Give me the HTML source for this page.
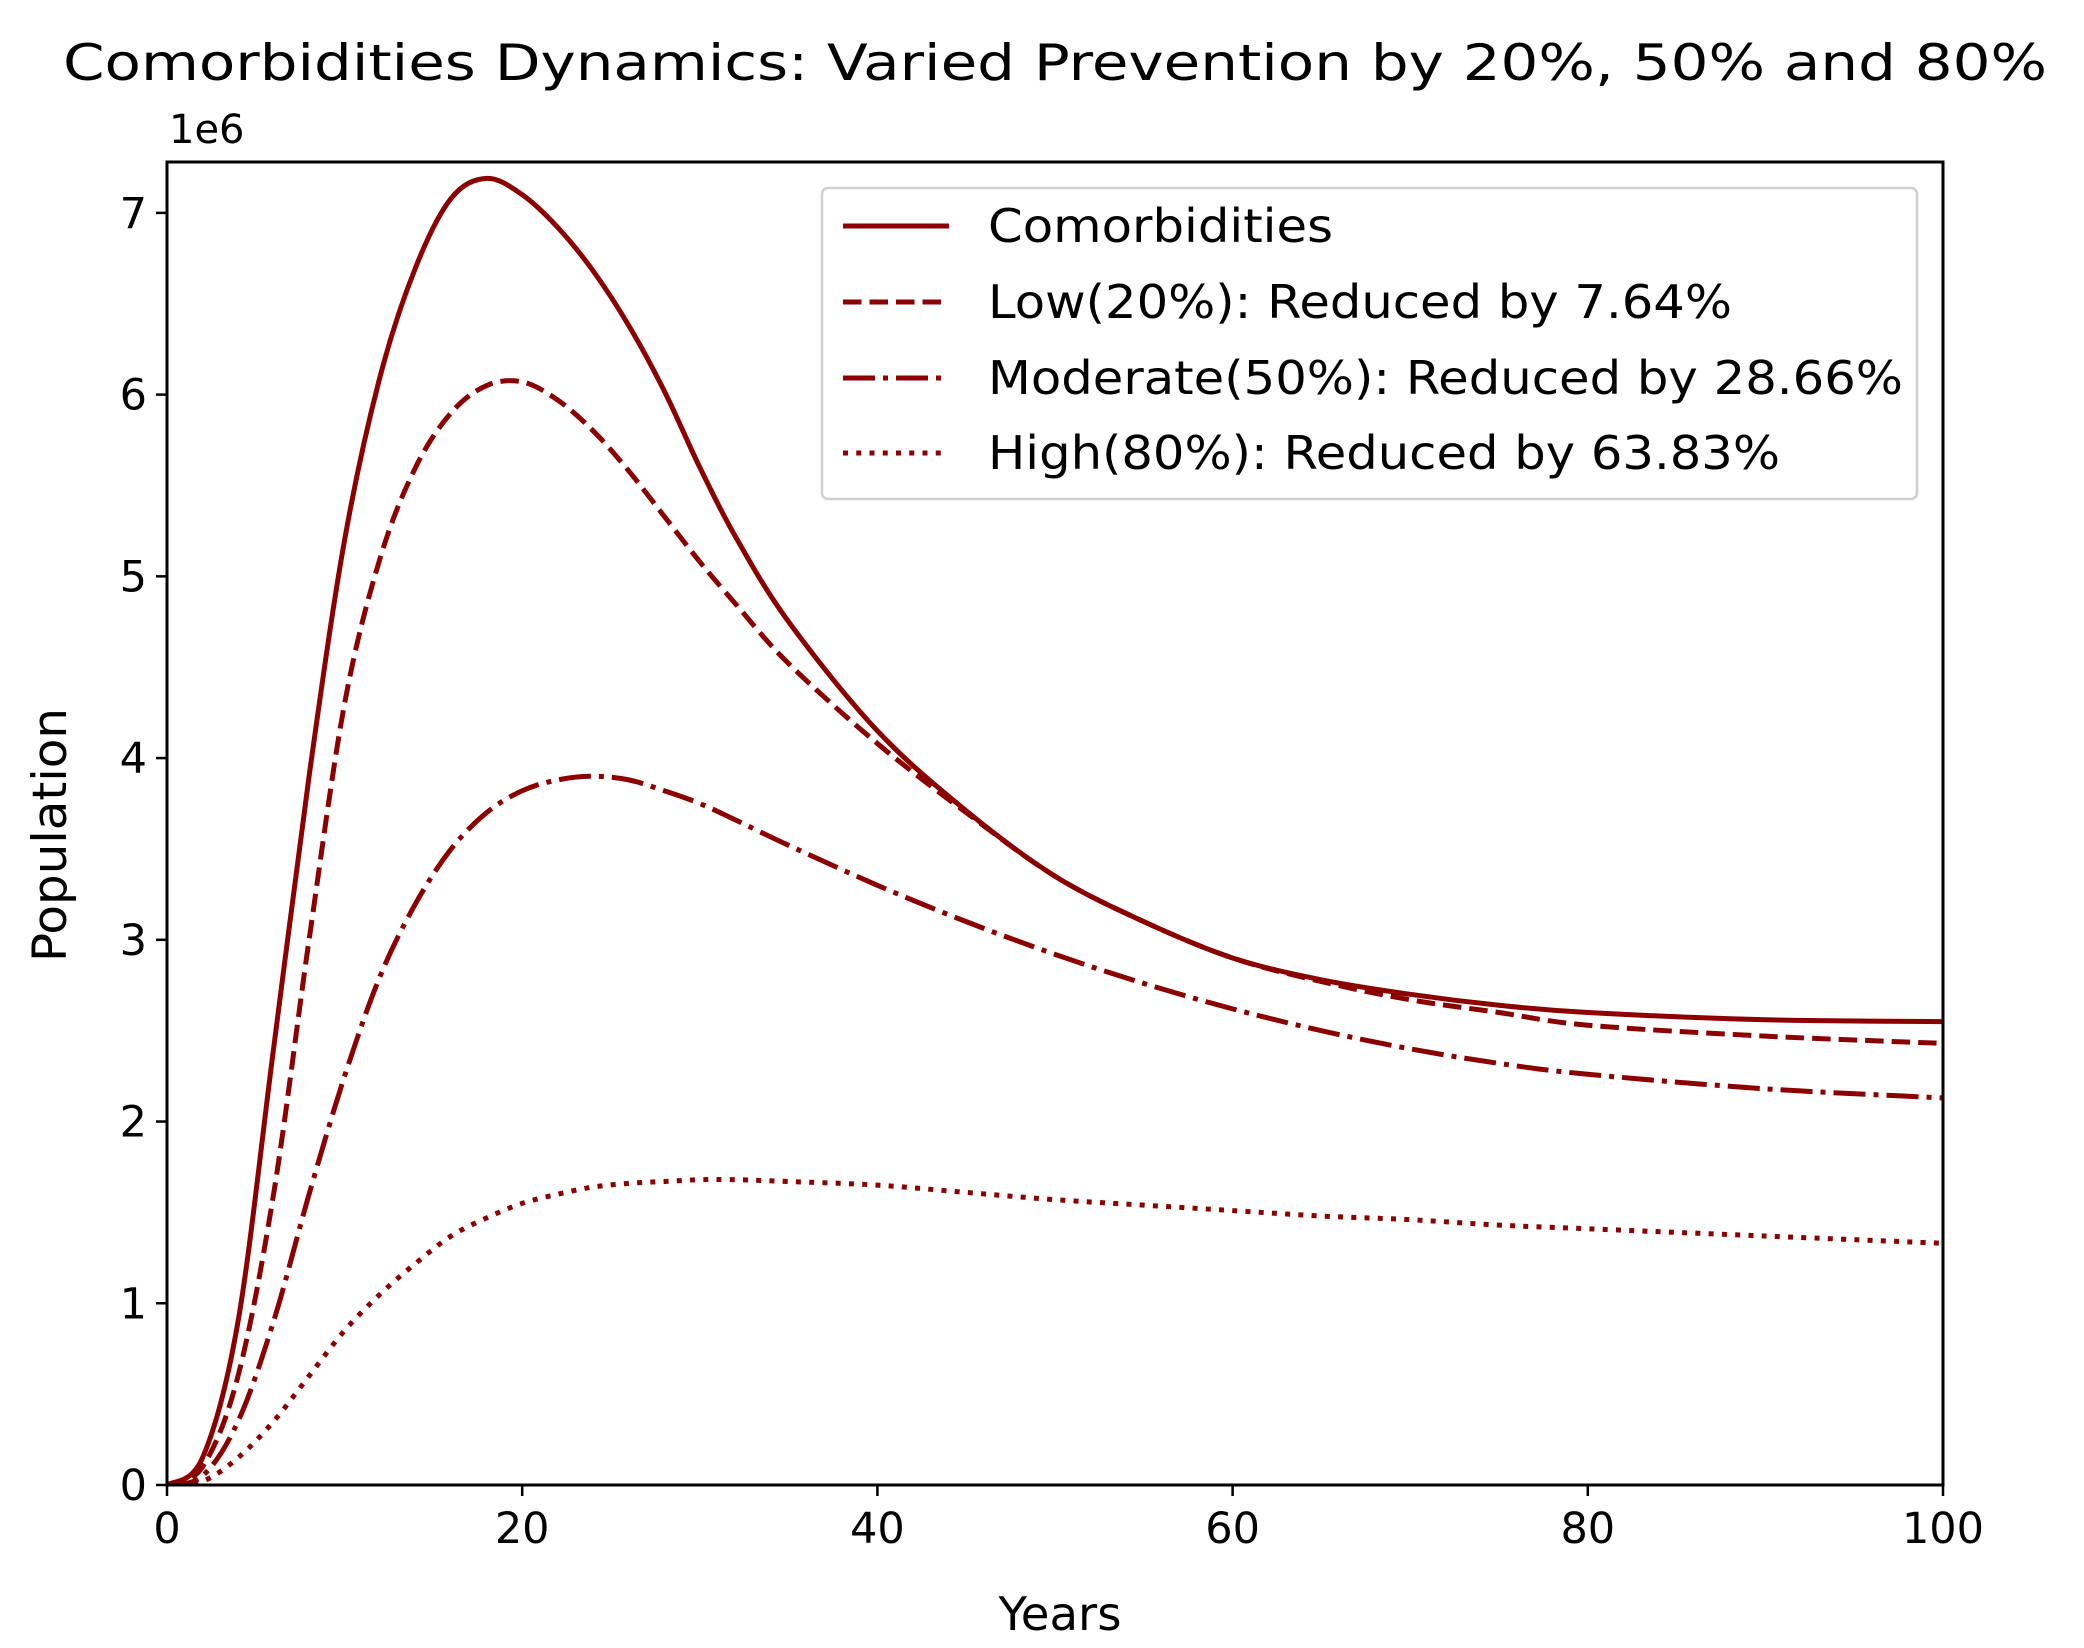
<!DOCTYPE html>
<html><head><meta charset="utf-8"><style>
html,body{margin:0;padding:0;background:#fff;}
svg{display:block;font-family:"DejaVu Sans","Liberation Sans",sans-serif;}
</style></head><body>
<svg id="chart" width="2084" height="1648" viewBox="0 0 2084 1648">
<text x="1055" y="80" font-size="50" text-anchor="middle" textLength="1984" lengthAdjust="spacingAndGlyphs">Comorbidities Dynamics: Varied Prevention by 20%, 50% and 80%</text>
<text x="169" y="143" font-size="40">1e6</text>
<g id="plot"></g>
<g id="axes"></g>
<text x="1060" y="1630" font-size="46" text-anchor="middle" textLength="123" lengthAdjust="spacingAndGlyphs">Years</text>
<text transform="translate(66,835) rotate(-90)" font-size="47" text-anchor="middle" textLength="254" lengthAdjust="spacingAndGlyphs">Population</text>
<g>
<rect x="822" y="188" width="1095" height="311" rx="6" fill="#fff" fill-opacity="0.8" stroke="#d0d0d0" stroke-width="2.5"/>
<line x1="843" y1="226" x2="949" y2="226" stroke="#8b0000" stroke-width="5"/>
<text x="988" y="242" font-size="46" textLength="345" lengthAdjust="spacingAndGlyphs">Comorbidities</text>
<line x1="843" y1="302" x2="949" y2="302" stroke="#8b0000" stroke-width="5" stroke-dasharray="18.5 8"/>
<text x="988" y="318" font-size="46" textLength="744" lengthAdjust="spacingAndGlyphs">Low(20%): Reduced by 7.64%</text>
<line x1="843" y1="378" x2="949" y2="378" stroke="#8b0000" stroke-width="5" stroke-dasharray="32 8 5 8"/>
<text x="988" y="394" font-size="46" textLength="915" lengthAdjust="spacingAndGlyphs">Moderate(50%): Reduced by 28.66%</text>
<line x1="843" y1="453" x2="949" y2="453" stroke="#8b0000" stroke-width="5" stroke-dasharray="5 8.25"/>
<text x="988" y="469" font-size="46" textLength="792" lengthAdjust="spacingAndGlyphs">High(80%): Reduced by 63.83%</text>
</g>
</svg>
<script>
const years = [0,2,4,6,8,10,12,14,16,18,20,22,24,26,28,30,32,35,40,45,50,55,60,65,70,75,80,90,100];
const comorbidities = [0,0.15,0.9,2.4,3.9,5.2,6.1,6.7,7.08,7.19,7.1,6.92,6.68,6.38,6.02,5.6,5.22,4.75,4.15,3.71,3.35,3.1,2.9,2.78,2.7,2.64,2.6,2.56,2.55];
const lowPrev = [0,0.1,0.6,1.6,3.0,4.3,5.1,5.6,5.9,6.05,6.07,5.97,5.8,5.58,5.33,5.08,4.85,4.52,4.08,3.7,3.35,3.1,2.9,2.77,2.67,2.6,2.53,2.47,2.43];
const moderatePrev = [0,0.05,0.35,0.9,1.6,2.25,2.8,3.2,3.5,3.7,3.82,3.88,3.9,3.88,3.82,3.75,3.66,3.52,3.3,3.1,2.92,2.76,2.62,2.5,2.4,2.32,2.26,2.18,2.13];
const highPrev = [0,0.02,0.15,0.35,0.6,0.85,1.05,1.22,1.37,1.47,1.55,1.6,1.64,1.66,1.67,1.68,1.68,1.67,1.65,1.61,1.57,1.54,1.51,1.48,1.46,1.43,1.41,1.37,1.33];
const xTicks = [0,20,40,60,80,100];
const yTicks = [0,1,2,3,4,5,6,7];

const L=167,R=1943,T=162,B=1485,XMAX=100,YMAX=7.28;
function sx(v){return L+(v/XMAX)*(R-L);}
function sy(v){return B-(v/YMAX)*(B-T);}
const NS="http://www.w3.org/2000/svg";
const plot=document.getElementById('plot'), axes=document.getElementById('axes');

function pathFor(xs,ys){
  const p=xs.map((x,i)=>[sx(x),sy(ys[i])]);
  let d=`M${p[0][0]},${p[0][1]}`;
  for(let i=0;i<p.length-1;i++){
    const p0=p[Math.max(0,i-1)],p1=p[i],p2=p[i+1],p3=p[Math.min(p.length-1,i+2)];
    const c1=[p1[0]+(p2[0]-p0[0])/6,p1[1]+(p2[1]-p0[1])/6];
    const c2=[p2[0]-(p3[0]-p1[0])/6,p2[1]-(p3[1]-p1[1])/6];
    d+=` C${c1[0]},${c1[1]} ${c2[0]},${c2[1]} ${p2[0]},${p2[1]}`;
  }
  return d;
}
const series=[[comorbidities,'',"series-comorbidities"],[lowPrev,'18.5 8',"series-low"],[moderatePrev,'32 8 5 8',"series-moderate"],[highPrev,'5 8.25',"series-high"]];
const clip=document.createElementNS(NS,'clipPath');clip.setAttribute('id','cp');
const cr=document.createElementNS(NS,'rect');cr.setAttribute('x',L);cr.setAttribute('y',T);cr.setAttribute('width',R-L);cr.setAttribute('height',B-T);
clip.appendChild(cr);document.getElementById('chart').appendChild(clip);
for(const s of series){
  const el=document.createElementNS(NS,'path');
  el.setAttribute('d',pathFor(years,s[0]));
  el.setAttribute('fill','none');el.setAttribute('stroke','#8b0000');el.setAttribute('stroke-width','5');
  el.setAttribute('clip-path','url(#cp)');
  if(s[1])el.setAttribute('stroke-dasharray',s[1]);
  
  
  plot.appendChild(el);
}
const frame=document.createElementNS(NS,'rect');
frame.setAttribute('x',L);frame.setAttribute('y',T);frame.setAttribute('width',R-L);frame.setAttribute('height',B-T);
frame.setAttribute('fill','none');frame.setAttribute('stroke','#000');frame.setAttribute('stroke-width','3');


axes.appendChild(frame);
for(const t of xTicks){
  const ln=document.createElementNS(NS,'line');
  ln.setAttribute('x1',sx(t));ln.setAttribute('x2',sx(t));ln.setAttribute('y1',B);ln.setAttribute('y2',B+11);
  ln.setAttribute('stroke','#000');ln.setAttribute('stroke-width','2.5');
  
  
  axes.appendChild(ln);
  const tx=document.createElementNS(NS,'text');
  tx.setAttribute('x',sx(t));tx.setAttribute('y',B+58);tx.setAttribute('font-size','43');tx.setAttribute('text-anchor','middle');
  tx.textContent=t;
  
  
  axes.appendChild(tx);
}
for(const t of yTicks){
  const ln=document.createElementNS(NS,'line');
  ln.setAttribute('x1',L-11);ln.setAttribute('x2',L);ln.setAttribute('y1',sy(t));ln.setAttribute('y2',sy(t));
  ln.setAttribute('stroke','#000');ln.setAttribute('stroke-width','2.5');
  
  
  axes.appendChild(ln);
  const tx=document.createElementNS(NS,'text');
  tx.setAttribute('x',L-20);tx.setAttribute('y',sy(t)+15);tx.setAttribute('font-size','43');tx.setAttribute('text-anchor','end');
  tx.textContent=t;
  
  
  axes.appendChild(tx);
}
</script>
</body></html>
